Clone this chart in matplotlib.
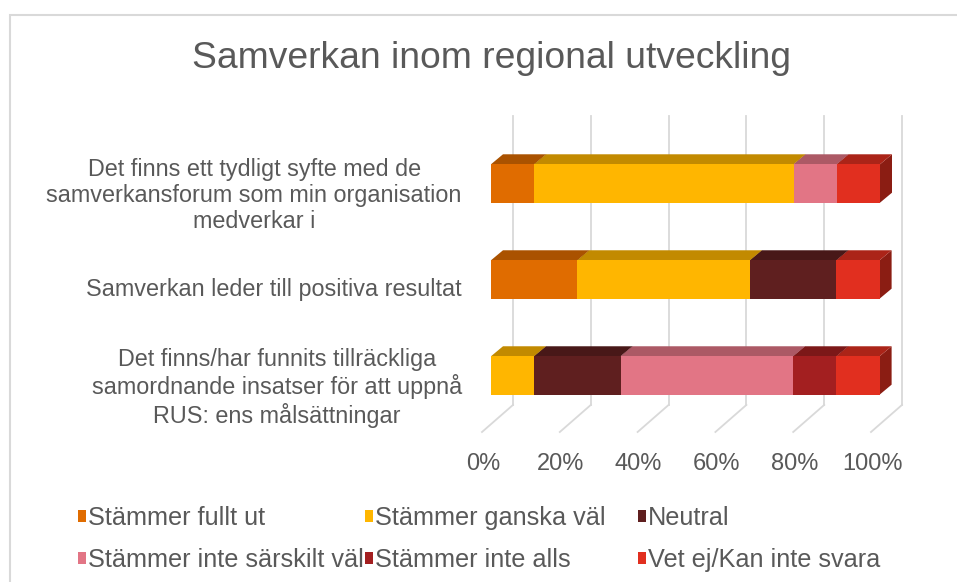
import matplotlib
matplotlib.use("Agg")
import matplotlib.pyplot as plt
import matplotlib.transforms as mtransforms
from matplotlib.patches import Polygon, Rectangle, Patch
from matplotlib.colors import to_rgb
import numpy as np

plt.rcParams['font.family'] = ['Liberation Sans', 'DejaVu Sans']

title = "Samverkan inom regional utveckling"
categories = [
    "Det finns ett tydligt syfte med de\nsamverkansforum som min organisation\nmedverkar i",
    "Samverkan leder till positiva resultat",
    "Det finns/har funnits tillräckliga\nsamordnande insatser för att uppnå\nRUS: ens målsättningar",
]
series_names = ["Stämmer fullt ut", "Stämmer ganska väl", "Neutral",
                "Stämmer inte särskilt väl", "Stämmer inte alls", "Vet ej/Kan inte svara"]
fullt_ut = [11.1, 22.2, 0.0]
ganska_val = [66.7, 44.4, 11.1]
neutral = [0.0, 22.2, 22.2]
inte_sarskilt = [11.1, 0.0, 44.4]
inte_alls = [0.0, 0.0, 11.1]
vet_ej = [11.1, 11.1, 11.1]
series_values = [fullt_ut, ganska_val, neutral, inte_sarskilt, inte_alls, vet_ej]
colors = ["#E06C00", "#FFB600", "#5F1F1F", "#E27585", "#A31F20", "#E12F1F"]
tick_values = [0, 20, 40, 60, 80, 100]
tick_labels = ["0%", "20%", "40%", "60%", "80%", "100%"]

W, H = 957, 582
fig = plt.figure(figsize=(W / 100, H / 100), dpi=100)
fig.patch.set_facecolor("white")

# chart border
fig.add_artist(Rectangle((10 / W, -0.1), 1.2, 1.1 - 15 / H, transform=fig.transFigure,
                         fill=False, edgecolor="#d9d9d9", linewidth=1.5))

# axes mapping: x 0..100 -> px 491..880 ; y -0.589..2.703 -> px 432..116
ax_l, ax_r = 491 / W, 880 / W
ax_b, ax_t = (H - 432) / H, (H - 116) / H
ax = fig.add_axes([ax_l, ax_b, ax_r - ax_l, ax_t - ax_b])
ax.set_xlim(0, 100)
ax.set_ylim(-0.589, 2.703)
for s in ax.spines.values():
    s.set_visible(False)
ax.set_facecolor("none")

px_x = 389 / 100.0   # px per %
px_y = 96.0          # px per category unit
back_dx = 22 / px_x
floor_front_dx = -9 / px_x
wall_top = 2.703
floor_back = -0.307
floor_front = -0.589
grid_c = "#d9d9d9"

for v in tick_values:
    ax.plot([v + back_dx, v + back_dx], [floor_back, wall_top], color=grid_c, lw=1.3,
            clip_on=False, zorder=0)
    ax.plot([v + back_dx, v + floor_front_dx], [floor_back, floor_front], color=grid_c, lw=1.3,
            clip_on=False, zorder=0)

# bars (3D-style)
ypos = [2, 1, 0]
bar_h = 0.40
dx = 12 / px_x
dy = 10 / px_y

def shade(c, f):
    r, g, b = to_rgb(c)
    return (r * f, g * f, b * f)

z = 2
for i, y in enumerate(ypos):
    left = 0.0
    for vals, col in zip(series_values, colors):
        w = vals[i]
        if w <= 0:
            continue
        y0, y1 = y - bar_h / 2, y + bar_h / 2
        side = Polygon([(left + w, y0), (left + w + dx, y0 + dy), (left + w + dx, y1 + dy), (left + w, y1)],
                       closed=True, facecolor=shade(col, 0.62), edgecolor="none", zorder=z, clip_on=False)
        ax.add_patch(side)
        top = Polygon([(left, y1), (left + dx, y1 + dy), (left + w + dx, y1 + dy), (left + w, y1)],
                      closed=True, facecolor=shade(col, 0.76), edgecolor="none", zorder=z, clip_on=False)
        ax.add_patch(top)
        ax.barh(y, w, left=left, height=bar_h, color=col, edgecolor="none", zorder=z + 1, clip_on=False)
        left += w
        z += 2

# ticks
ax.set_xticks(tick_values, tick_labels)
ax.tick_params(axis="x", length=0, pad=15, labelsize=17, labelcolor="#595959")
offset = mtransforms.ScaledTranslation(-8 / 100, 0, fig.dpi_scale_trans)
for lab in ax.get_xticklabels():
    lab.set_transform(lab.get_transform() + offset)

ax.set_yticks(ypos, categories)
ax.tick_params(axis="y", length=0, pad=21, labelsize=16.8, labelcolor="#595959")
yoff = mtransforms.ScaledTranslation(0, -8 / 100, fig.dpi_scale_trans)
for lab in ax.get_yticklabels():
    lab.set_multialignment("center")
    lab.set_linespacing(1.18)
    lab.set_transform(lab.get_transform() + yoff)

fig.text(491 / W, (H - 58) / H, title, ha="center", va="center", fontsize=26.8, color="#595959")

# legend: three columns of two entries each
handles = [Patch(facecolor=c, edgecolor="none") for c in colors]
columns = [[0, 3], [1, 4], [2, 5]]
col_x = [78, 365, 638]
for cx, idx in zip(col_x, columns):
    fig.legend([handles[k] for k in idx], [series_names[k] for k in idx], ncol=1,
               loc="upper left", bbox_to_anchor=(cx / W, (H - 506) / H), frameon=False,
               fontsize=18.2, handlelength=0.33, handleheight=0.33, handletextpad=0.08,
               labelspacing=0.72, borderpad=0, borderaxespad=0,
               labelcolor="#595959")

fig.savefig("out.png", dpi=100, facecolor="white")
